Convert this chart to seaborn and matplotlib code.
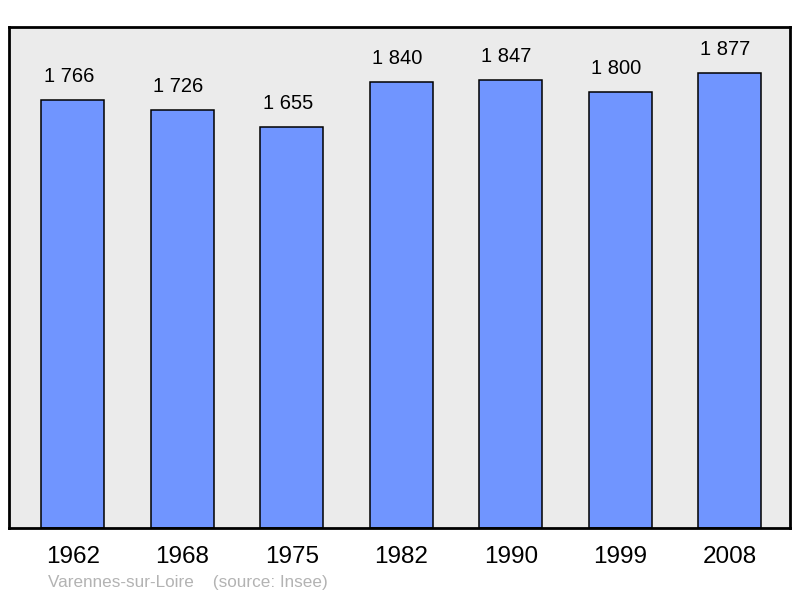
import matplotlib.pyplot as plt
import seaborn as sns

# Population data
years = ['1962', '1968', '1975', '1982', '1990', '1999', '2008']
population = [1766, 1726, 1655, 1840, 1847, 1800, 1877]
value_labels = ['1 766', '1 726', '1 655', '1 840', '1 847', '1 800', '1 877']

sns.set_style('white')
plt.rcParams['font.family'] = ['Liberation Sans', 'DejaVu Sans']
plt.rcParams['text.color'] = 'black'
plt.rcParams['xtick.color'] = 'black'

fig = plt.figure(figsize=(8, 5.98), dpi=100)
ax = fig.add_axes([0.01125, 0.117, 0.97625, 0.838])
ax.set_facecolor('#ebebeb')

sns.barplot(x=years, y=population, color='#7095ff', saturation=1,
            edgecolor='black', linewidth=1.1, width=0.575, ax=ax)

# labels sit a little left of the bar centre, like the original
for i, (v, lab) in enumerate(zip(population, value_labels)):
    ax.annotate(lab, (i, v), xytext=(-3, 10), textcoords='offset points',
                ha='center', va='bottom', fontsize=14.5, color='black')

ax.set_xlim(-0.584, 6.552)
ax.set_ylim(0, 2067)
ax.set_yticks([])
ax.set_xlabel('')
ax.set_ylabel('')
ax.tick_params(axis='x', length=0, pad=13, labelsize=17.5, labelcolor='black')
for s in ax.spines.values():
    s.set_visible(True)
    s.set_color('black')
    s.set_linewidth(2)

fig.text(48 / 800, 1 - 583 / 598, 'Varennes-sur-Loire    (source: Insee)',
         color='#b3b3b3', fontsize=12.3, va='center', ha='left')

fig.savefig('out.png', dpi=100)
